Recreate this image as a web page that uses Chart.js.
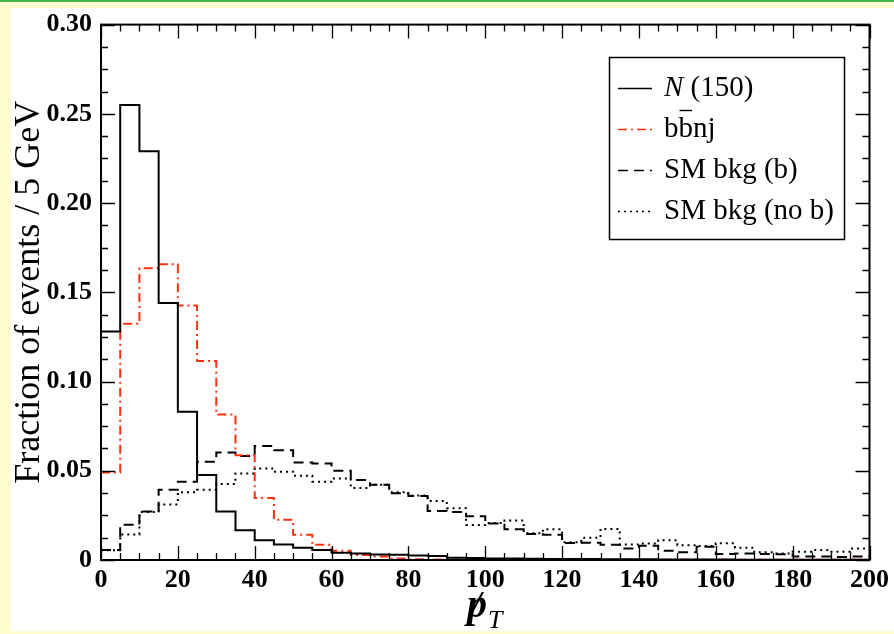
<!DOCTYPE html>
<html><head><meta charset="utf-8">
<script src="https://cdn.jsdelivr.net/npm/chart.js@4.4.1/dist/chart.umd.min.js"></script>
<style>html,body{margin:0;padding:0;background:#fdfdcf;overflow:hidden;} canvas{display:block;}</style>
</head><body><canvas id="c" width="894" height="634"></canvas>
<script>
// ---- data ----
const binLow = [0,5,10,15,20,25,30,35,40,45,50,55,60,65,70,75,80,85,90,95,100,105,110,115,120,125,130,135,140,145,150,155,160,165,170,175,180,185,190,195];
const binWidth = 5;
const seriesN150 = [0.128,0.255,0.229,0.144,0.083,0.0476,0.0272,0.0167,0.0111,0.0087,0.0069,0.0056,0.0041,0.0037,0.0031,0.0030,0.0025,0.0023,0.0013,0.0011,0.0009,0.0008,0.0007,0.0006,0.0005,0.0005,0.0004,0.0004,0.0004,0.0003,0.0003,0.0003,0.0003,0.0002,0.0002,0.0002,0.0002,0.0002,0.0002,0.0002];
const seriesBBnj = [0.049,0.1324,0.1635,0.1657,0.1426,0.1115,0.0815,0.0587,0.0348,0.0226,0.0141,0.0085,0.0052,0.0028,0.0020,0.0009,0.0004,0.0003,0.0003,0.0002,0.0002,0.0002,0.0002,0.0002,0.0002,0.0002,0.0002,0.0002,0.0002,0.0002,0.0002,0.0002,0.0002,0.0002,0.0002,0.0002,0.0002,0.0002,0.0002,0.0002];
const seriesSMb = [0.0056,0.0198,0.0272,0.0394,0.0439,0.0550,0.0602,0.0583,0.0639,0.0615,0.0546,0.0541,0.0500,0.0448,0.0422,0.0374,0.0359,0.0274,0.0269,0.0245,0.0204,0.0172,0.0146,0.0142,0.0095,0.0096,0.0085,0.0065,0.0080,0.0052,0.0043,0.0074,0.0033,0.0037,0.0033,0.0032,0.0019,0.0019,0.0017,0.0019];
const seriesSMnob = [0.0055,0.0143,0.0269,0.0311,0.0380,0.0393,0.0426,0.0485,0.0513,0.0495,0.0472,0.0439,0.0457,0.0404,0.0422,0.0380,0.0361,0.0330,0.0290,0.0196,0.0208,0.0222,0.0150,0.0172,0.0100,0.0124,0.0174,0.0087,0.0093,0.0111,0.0083,0.0078,0.0094,0.0069,0.0043,0.0037,0.0046,0.0056,0.0046,0.0065];
const xTickValues = [0,20,40,60,80,100,120,140,160,180,200];
const xTickLabels = ['0','20','40','60','80','100','120','140','160','180','200'];
const yTickValues = [0,0.05,0.10,0.15,0.20,0.25,0.30];
const yTickLabels = ['0','0.05','0.10','0.15','0.20','0.25','0.30'];
const xMinorStep = 5, yMinorStep = 0.0125;
const seriesLabels = ['N (150)','bb\u0304nj','SM bkg (b)','SM bkg (no b)'];

// ---- helpers ----
function toSteps(vals){
  const pts = vals.map((v,i)=>({x:binLow[i], y:v}));
  pts.push({x:binLow[binLow.length-1]+binWidth, y:vals[vals.length-1]});
  return pts;
}
const RED = 'rgb(255,48,16)';
const SERIF = '"Liberation Serif", "Times New Roman", serif';
const styles = [
  {color:'#000', dash:[]},
  {color:RED, dash:[9,4,2,4]},
  {color:'#000', dash:[10,6]},
  {color:'#000', dash:[2,4]}
];

const bgPlugin = {
  id:'bg',
  beforeDraw(chart){
    const c = chart.ctx;
    c.save();
    c.fillStyle = '#fdfdcf'; c.fillRect(0,0,chart.width,chart.height);
    c.fillStyle = '#46b446'; c.fillRect(0,0,chart.width,2);
    c.fillStyle = '#ffffff'; c.fillRect(11,8,chart.width-11,623);
    c.restore();
  }
};

const framePlugin = {
  id:'frame',
  afterDraw(chart){
    const c = chart.ctx, a = chart.chartArea, xs = chart.scales.x, ys = chart.scales.y;
    c.save();
    c.strokeStyle = '#000'; c.lineWidth = 2;
    c.strokeRect(a.left, a.top, a.right-a.left, a.bottom-a.top);
    c.lineWidth = 1.3;
    // x ticks
    for (let v = xs.min; v <= xs.max + 1e-9; v += xMinorStep){
      const px = Math.round(xs.getPixelForValue(v)) + 0.5;
      const len = xTickValues.includes(v) ? 14 : 7;
      c.beginPath();
      c.moveTo(px, a.bottom); c.lineTo(px, a.bottom - len);
      c.moveTo(px, a.top); c.lineTo(px, a.top + len);
      c.stroke();
    }
    // y ticks
    for (let i = 0; i * yMinorStep <= ys.max + 1e-9; i++){
      const v = i * yMinorStep;
      const py = Math.round(ys.getPixelForValue(v)) + 0.5;
      const major = yTickValues.some(t => Math.abs(t - v) < 1e-9);
      const len = major ? 14 : 7;
      c.beginPath();
      c.moveTo(a.left, py); c.lineTo(a.left + len, py);
      c.moveTo(a.right, py); c.lineTo(a.right - len, py);
      c.stroke();
    }
    // x title: slashed p with subscript T
    c.fillStyle = '#000';
    c.font = 'italic bold 40px ' + SERIF;
    c.textBaseline = 'alphabetic';
    const pw = c.measureText('p').width;
    const px0 = 467;
    c.fillText('p', px0, 617);
    c.font = 'italic bold 34px ' + SERIF;
    c.fillText('/', px0 + 5, 614);
    c.font = 'italic 26px ' + SERIF;
    c.fillText('T', px0 + pw + 1, 628);

    // legend
    const L = {x:609.5, y:57.5, w:235, h:182};
    c.lineWidth = 1.5; c.setLineDash([]);
    c.strokeStyle = '#000';
    c.strokeRect(L.x, L.y, L.w, L.h);
    const rows = [88, 129, 170, 211];
    c.textBaseline = 'middle';
    rows.forEach((ry, i) => {
      c.save();
      c.strokeStyle = styles[i].color; c.lineWidth = 1.5;
      c.setLineDash(styles[i].dash);
      c.beginPath(); c.moveTo(618, ry + 0.5); c.lineTo(652, ry + 0.5); c.stroke();
      c.restore();
      const tx = 664;
      c.fillStyle = '#000';
      if (i === 0){
        c.font = 'italic 29px ' + SERIF;
        c.fillText('N', tx, ry);
        const nw = c.measureText('N').width;
        c.font = '29px ' + SERIF;
        c.fillText(' (150)', tx + nw, ry);
      } else if (i === 1){
        c.font = '29px ' + SERIF;
        c.fillText('bbnj', tx, ry);
        const bw = c.measureText('b').width;
        c.lineWidth = 1.4;
        c.beginPath(); c.moveTo(tx + bw + 1, ry - 18.5); c.lineTo(tx + 2*bw - 1, ry - 18.5); c.stroke();
      } else {
        c.font = '29px ' + SERIF;
        c.fillText(seriesLabels[i], tx, ry);
      }
    });
    c.restore();
  }
};

const series = [seriesN150, seriesBBnj, seriesSMb, seriesSMnob];
const datasets = series.map((s, i) => ({
  label: seriesLabels[i],
  data: toSteps(s),
  borderColor: styles[i].color,
  borderDash: styles[i].dash,
  borderWidth: 2,
  stepped: 'before',
  pointRadius: 0,
  fill: false,
  tension: 0
}));

new Chart(document.getElementById('c'), {
  type: 'line',
  data: { datasets },
  options: {
    responsive: false,
    animation: false,
    devicePixelRatio: 1,
    layout: { padding: { left: 8, right: 24, top: 19, bottom: 0 } },
    plugins: { legend: { display: false }, tooltip: { enabled: false } },
    scales: {
      x: {
        type: 'linear', min: 0, max: 200,
        grid: { display: false, drawTicks: false },
        border: { display: false },
        afterBuildTicks: s => { s.ticks = xTickValues.map(v => ({ value: v })); },
        ticks: {
          autoSkip: false, maxRotation: 0, padding: 5, color: '#000',
          font: { family: SERIF, size: 26, weight: 'bold' },
          callback: (v) => { const k = xTickValues.indexOf(v); return k >= 0 ? xTickLabels[k] : ''; }
        },
        afterFit: s => { s.height = 74; }
      },
      y: {
        type: 'linear', min: 0, max: 0.3,
        grid: { display: false, drawTicks: false },
        border: { display: false },
        afterBuildTicks: s => { s.ticks = yTickValues.map(v => ({ value: v })); },
        ticks: {
          autoSkip: false, padding: 9, color: '#000',
          font: { family: SERIF, size: 26, weight: 'bold' },
          callback: (v) => { const k = yTickValues.findIndex(t => Math.abs(t - v) < 1e-9); return k >= 0 ? yTickLabels[k] : ''; }
        },
        title: {
          display: true, text: 'Fraction of events / 5 GeV', color: '#000',
          font: { family: SERIF, size: 36 }, padding: { top: 0, bottom: 0 }
        },
        afterFit: s => { s.width = 93; }
      }
    }
  },
  plugins: [bgPlugin, framePlugin]
});
</script>
</body></html>
